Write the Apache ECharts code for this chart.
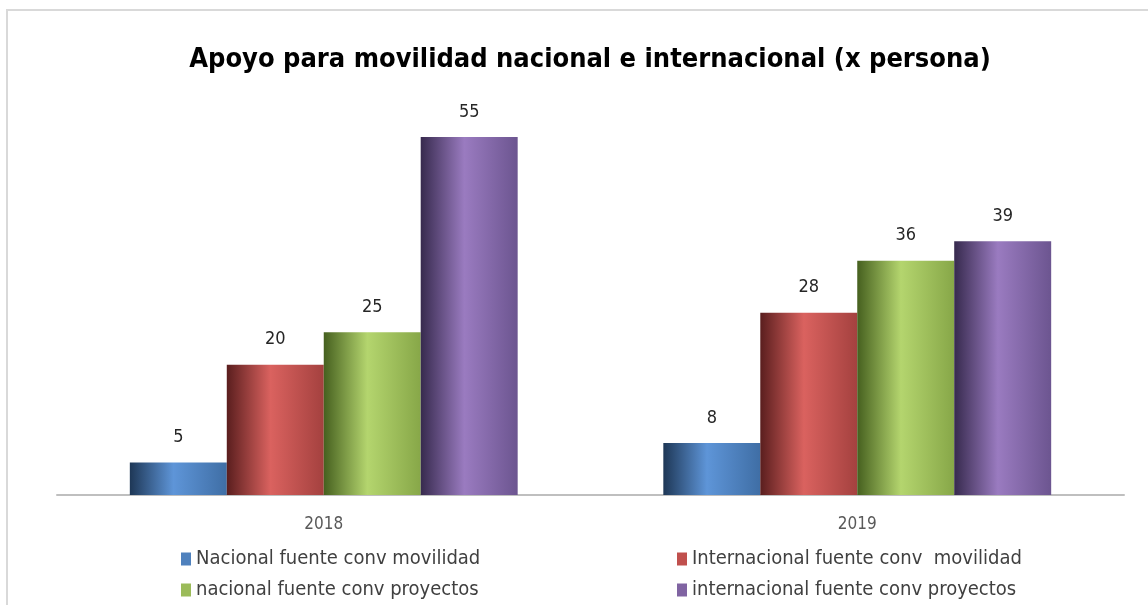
<!DOCTYPE html>
<html lang="es">

<head>
    <meta charset="UTF-8">
    <title>Apoyo para movilidad</title>
    <script src="https://cdn.jsdelivr.net/npm/echarts@6/dist/echarts.min.js"></script>
    <style>
        html, body {
            margin: 0;
            padding: 0;
            background: #fff;
        }

        #container {
            width: 1148px;
            height: 605px;
        }
    </style>
</head>

<body>
    <div id="container"></div>
</body>
<script>
    var years = ['2018', '2019'];
    var seriesNames = [
        'Nacional fuente conv movilidad',
        'Internacional fuente conv  movilidad',
        'nacional fuente conv proyectos',
        'internacional fuente conv proyectos'
    ];
    var nacionalMovilidad = [5, 8];
    var internacionalMovilidad = [20, 28];
    var nacionalProyectos = [25, 36];
    var internacionalProyectos = [55, 39];

    // left edge, middle highlight, right edge
    var shades = [
        ['#1e3756', '#5e95d8', '#3f6ea5'],
        ['#5a1e1e', '#da625f', '#a4413f'],
        ['#46601f', '#b4d56e', '#87a748'],
        ['#372a4e', '#9a7bc0', '#6c5590']
    ];
    var flat = ['#4f81bd', '#c0504d', '#9bbb59', '#8064a2'];
    var values = [nacionalMovilidad, internacionalMovilidad, nacionalProyectos, internacionalProyectos];

    // legend slots: [left, top]
    var legendPos = [[176, 544], [672, 544], [176, 575], [672, 575]];

    var font = '"DejaVu Sans Condensed", "Liberation Sans Narrow", sans-serif';

    var makeGradient = function (s) {
        return new echarts.graphic.LinearGradient(0, 0, 1, 0, [
            { offset: 0, color: s[0] },
            { offset: 0.45, color: s[1] },
            { offset: 1, color: s[2] }
        ]);
    };

    var series = seriesNames.map(function (name, i) {
        return {
            name: name,
            type: 'bar',
            data: values[i],
            barGap: '0%',
            barCategoryGap: '27.3%',
            itemStyle: { color: makeGradient(shades[i]) },
            label: {
                show: true,
                position: 'top',
                distance: 16,
                fontSize: 18,
                color: '#262626',
                fontFamily: font
            }
        };
    });

    var legends = seriesNames.map(function (name, i) {
        return {
            data: [{ name: name, itemStyle: { color: flat[i] } }],
            left: legendPos[i][0],
            top: legendPos[i][1],
            itemWidth: 10,
            itemHeight: 13,
            itemGap: 6,
            icon: 'rect',
            textStyle: { fontSize: 20, color: '#404040', fontFamily: font }
        };
    });

    var chartDom = document.getElementById('container');
    var myChart = echarts.init(chartDom);
    var option = {
        animation: false,
        title: {
            text: 'Apoyo para movilidad nacional e internacional (x persona)',
            left: 585,
            textAlign: 'center',
            top: 41,
            textStyle: {
                fontSize: 27,
                fontWeight: 'bold',
                color: '#000',
                fontFamily: font
            }
        },
        graphic: [{
            type: 'rect',
            shape: { x: 7, y: 10, width: 1200, height: 700 },
            style: { fill: 'none', stroke: '#d9d9d9', lineWidth: 2 },
            silent: true
        }],
        legend: legends,
        grid: {
            left: 57,
            right: 24,
            top: 137,
            bottom: 110
        },
        xAxis: {
            type: 'category',
            data: years,
            axisLine: { lineStyle: { color: '#bfbfbf', width: 2 } },
            axisTick: { show: false },
            axisLabel: {
                fontSize: 17,
                color: '#595959',
                margin: 21,
                fontFamily: font
            }
        },
        yAxis: {
            type: 'value',
            min: 0,
            max: 55,
            show: false,
            splitLine: { show: false }
        },
        series: series
    };

    myChart.setOption(option);
</script>

</html>
